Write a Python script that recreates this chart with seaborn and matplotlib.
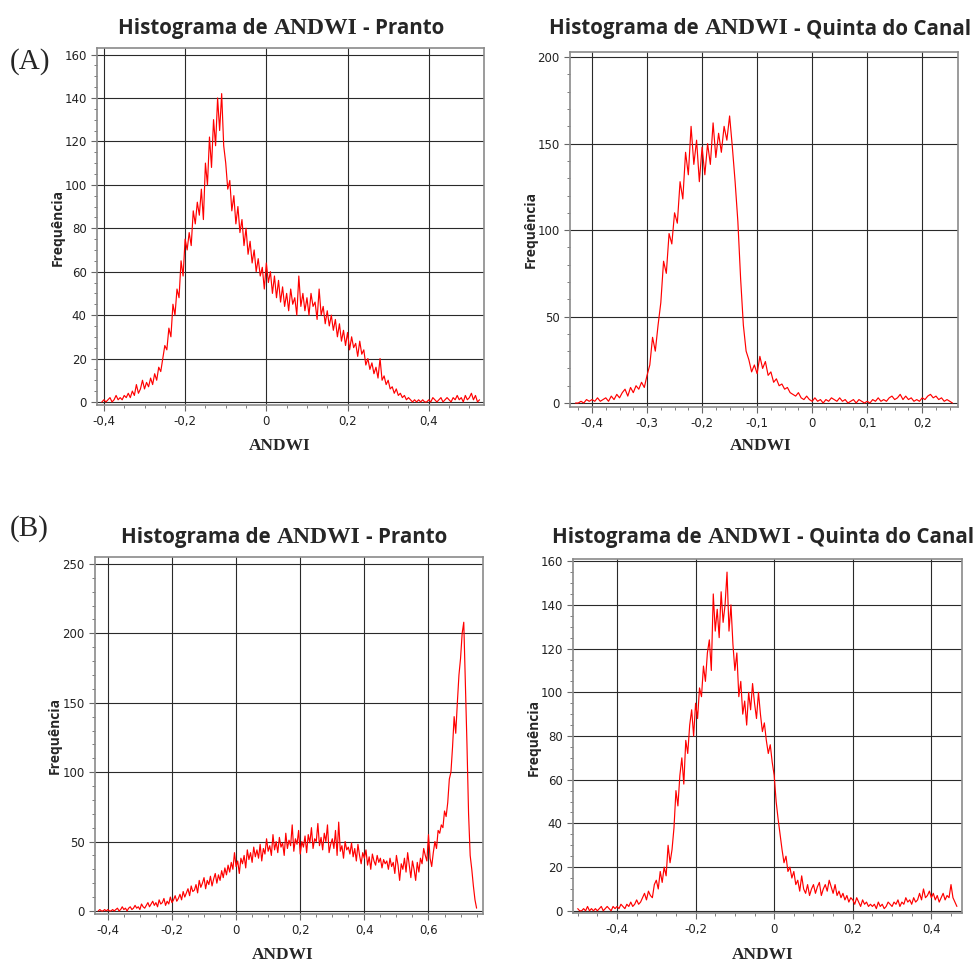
import numpy as np
import pandas as pd
import matplotlib
matplotlib.use('Agg')
import matplotlib.pyplot as plt
from matplotlib.ticker import MultipleLocator, FuncFormatter
import seaborn as sns

# histogram bins: first bin centre, bin width and counts
pranto_a_start, pranto_a_step = -0.405, 0.005
pranto_a_counts = [
    0, 1, 0, 1, 2, 0, 1, 3, 1, 2,
    1, 3, 2, 4, 2, 5, 3, 8, 4, 6,
    10, 6, 9, 7, 11, 8, 13, 10, 16, 14,
    20, 26, 24, 34, 30, 45, 40, 52, 48, 65,
    58, 75, 70, 78, 72, 88, 82, 92, 86, 98,
    84, 110, 100, 122, 108, 130, 118, 140, 125, 142,
    118, 110, 98, 102, 88, 95, 82, 90, 78, 84,
    72, 80, 68, 74, 64, 70, 60, 66, 58, 62,
    52, 64, 55, 60, 50, 58, 48, 56, 46, 53,
    44, 50, 42, 52, 45, 48, 40, 58, 44, 50,
    42, 48, 40, 50, 44, 46, 38, 52, 40, 44,
    36, 42, 35, 40, 33, 38, 30, 36, 28, 33,
    26, 32, 24, 30, 25, 27, 21, 28, 22, 24,
    17, 20, 15, 18, 13, 16, 11, 20, 10, 12,
    8, 10, 6, 7, 4, 6, 3, 4, 2, 3,
    1, 2, 1, 0, 1, 0, 1, 0, 1, 0,
    0, 1, 0, 2, 1, 0, 1, 2, 0, 1,
    2, 1, 0, 2, 1, 3, 1, 2, 0, 3,
    1, 2, 4, 1, 3, 0, 1,
]

quinta_a_start, quinta_a_step = -0.43, 0.005
quinta_a_counts = [
    0, 0, 1, 0, 2, 1, 2, 1, 3, 1,
    2, 3, 1, 4, 2, 5, 3, 6, 8, 4,
    9, 6, 10, 8, 12, 9, 16, 22, 38, 30,
    45, 58, 82, 75, 98, 92, 110, 104, 128, 118,
    145, 132, 160, 138, 152, 128, 148, 132, 150, 138,
    162, 142, 156, 145, 160, 152, 166, 148, 128, 105,
    72, 45, 30, 25, 18, 22, 17, 27, 20, 24,
    16, 18, 12, 14, 10, 11, 8, 9, 6, 5,
    4, 6, 3, 2, 4, 2, 1, 3, 1, 2,
    0, 2, 1, 3, 2, 1, 3, 1, 2, 0,
    1, 2, 0, 2, 1, 0, 1, 0, 2, 1,
    3, 1, 2, 1, 3, 4, 2, 3, 5, 2,
    4, 2, 3, 1, 2, 1, 3, 2, 4, 5,
    3, 4, 2, 3, 1, 2, 1, 0,
]

pranto_b_start, pranto_b_step = -0.43, 0.005
pranto_b_counts = [
    0, 1, 0, 0, 1, 0, 1, 0, 0, 1,
    0, 1, 2, 0, 1, 3, 1, 2, 0, 2,
    3, 1, 2, 4, 2, 3, 1, 5, 3, 2,
    4, 6, 3, 5, 7, 4, 6, 3, 8, 5,
    6, 9, 4, 7, 5, 10, 6, 8, 11, 7,
    9, 12, 8, 14, 10, 13, 16, 11, 18, 14,
    15, 19, 13, 22, 17, 20, 24, 16, 22, 19,
    25, 18, 23, 27, 20, 26, 22, 29, 24, 31,
    26, 33, 28, 35, 30, 42, 32, 36, 27, 38,
    34, 40, 31, 44, 37, 42, 35, 46, 39, 44,
    38, 48, 36, 45, 41, 52, 43, 47, 40, 55,
    44, 50, 42, 53, 46, 49, 40, 56, 45, 51,
    47, 62, 43, 52, 48, 58, 41, 50, 46, 54,
    42, 55, 49, 60, 45, 52, 50, 63, 47, 53,
    44, 56, 50, 62, 42, 48, 52, 45, 58, 40,
    64, 43, 47, 38, 50, 44, 46, 41, 49, 39,
    45, 36, 48, 40, 34, 42, 38, 44, 33, 39,
    30, 41, 36, 33, 40, 35, 38, 31, 37, 34,
    36, 30, 38, 32, 35, 27, 40, 33, 22, 34,
    30, 38, 28, 42, 33, 24, 36, 30, 22, 35,
    28, 38, 34, 45, 40, 36, 55, 38, 32, 42,
    50, 45, 58, 56, 62, 60, 72, 68, 78, 95,
    100, 118, 140, 128, 150, 170, 182, 200, 208, 165,
    120, 70, 40, 30, 18, 8, 2,
]

quinta_b_start, quinta_b_step = -0.5, 0.005
quinta_b_counts = [
    1, 0, 0, 1, 0, 2, 0, 1, 0, 1,
    0, 1, 2, 0, 1, 2, 1, 0, 2, 1,
    2, 1, 3, 2, 1, 3, 2, 4, 2, 3,
    5, 3, 4, 6, 8, 5, 9, 7, 6, 12,
    14, 10, 18, 13, 20, 16, 30, 22, 28, 38,
    55, 48, 62, 70, 58, 78, 72, 85, 92, 80,
    95, 88, 102, 98, 112, 105, 118, 124, 110, 145,
    128, 138, 125, 146, 132, 140, 155, 128, 140, 122,
    110, 118, 98, 105, 90, 96, 85, 100, 92, 104,
    95, 88, 100, 90, 82, 86, 78, 72, 76, 68,
    62, 50, 42, 35, 28, 22, 25, 18, 20, 15,
    18, 12, 14, 9, 16, 10, 8, 12, 7, 10,
    12, 8, 11, 13, 7, 10, 12, 9, 14, 11,
    8, 12, 7, 9, 6, 8, 5, 7, 4, 6,
    5, 3, 6, 4, 2, 5, 3, 4, 2, 3,
    2, 3, 1, 4, 2, 3, 1, 2, 4, 3,
    2, 4, 3, 5, 2, 4, 3, 6, 4, 5,
    3, 6, 4, 5, 8, 5, 10, 6, 7, 9,
    6, 8, 5, 7, 4, 6, 8, 5, 7, 6,
    12, 6, 4, 2,
]

sns.set_style('white')
plt.rcParams['font.family'] = ['DejaVu Sans']

W, H = 975, 965
fig = plt.figure(figsize=(W / 100, H / 100), dpi=100)


def comma_fmt(v, pos):
    s = f'{v:.2f}'.rstrip('0').rstrip('.')
    if s in ('-0', ''):
        s = '0'
    return s.replace('.', ',')


def px_rect(l, t, r, b):
    return [l / W, 1 - b / H, (r - l) / W, (b - t) / H]


def draw_panel(rect, start, step, counts, xlim, ylim, xmaj, xmin, ymaj, ymin):
    ax = fig.add_axes(px_rect(*rect))
    df = pd.DataFrame({'ANDWI': start + step * np.arange(len(counts)),
                       'Frequencia': counts})
    sns.lineplot(data=df, x='ANDWI', y='Frequencia', ax=ax, color='#ff0000', lw=0.85)
    ax.set_xlim(xlim)
    ax.set_ylim(ylim)
    ax.xaxis.set_major_locator(MultipleLocator(xmaj))
    ax.xaxis.set_minor_locator(MultipleLocator(xmin))
    ax.yaxis.set_major_locator(MultipleLocator(ymaj))
    ax.yaxis.set_minor_locator(MultipleLocator(ymin))
    ax.xaxis.set_major_formatter(FuncFormatter(comma_fmt))
    ax.yaxis.set_major_formatter(FuncFormatter(comma_fmt))
    ax.grid(True, which='major', color='#2a2a2a', lw=0.8)
    ax.tick_params(which='major', direction='out', length=4, width=0.8, color='#666',
                   labelsize=8.5, labelcolor='#222', bottom=True, left=True)
    ax.tick_params(which='minor', direction='out', length=2, width=0.6, color='#666',
                   bottom=True, left=True)
    for sp in ax.spines.values():
        sp.set_color('#8a8a8a')
        sp.set_linewidth(1.2)
    ax.set_xlabel('')
    ax.set_ylabel('')
    return ax


draw_panel((97, 48, 484, 405), pranto_a_start, pranto_a_step, pranto_a_counts,
           (-0.417, 0.536), (-1.4, 163), 0.2, 0.05, 20, 5)
draw_panel((570, 52, 958, 407), quinta_a_start, quinta_a_step, quinta_a_counts,
           (-0.44, 0.265), (-2.3, 203), 0.1, 0.025, 50, 10)
draw_panel((95, 557, 483, 914), pranto_b_start, pranto_b_step, pranto_b_counts,
           (-0.44, 0.77), (-2.2, 255), 0.2, 0.05, 50, 10)
draw_panel((573, 559, 962, 913), quinta_b_start, quinta_b_step, quinta_b_counts,
           (-0.512, 0.478), (-1, 161), 0.2, 0.05, 20, 5)

# titles mix a sans font with a serif "ANDWI"
fig.canvas.draw()
renderer = fig.canvas.get_renderer()


def title(x_px, base_px, place):
    parts = [('Histograma de', 'Open Sans', 14.8, 6),
             ('ANDWI', 'Liberation Serif', 17, 6),
             ('- ' + place, 'Open Sans', 14.8, 0)]
    x = x_px
    for txt, fam, size, gap in parts:
        t = fig.text(x / W, 1 - base_px / H, txt, family=fam, fontsize=size,
                     fontweight='bold', va='baseline', ha='left')
        x = t.get_window_extent(renderer).x1 + gap


title(118, 34, 'Pranto')
title(549, 34, 'Quinta do Canal')
title(121, 543, 'Pranto')
title(552, 543, 'Quinta do Canal')

fig.text(10 / W, 1 - 62 / H, '(A)', family='Liberation Serif', fontsize=21, va='center', ha='left')
fig.text(10 / W, 1 - 529 / H, '(B)', family='Liberation Serif', fontsize=21, va='center', ha='left')

for x, y in [(58, 228), (531, 230), (55, 735), (534, 737)]:
    fig.text(x / W, 1 - y / H, 'Frequência', family='Open Sans', fontweight='bold',
             fontsize=10, rotation=90, va='center', ha='center')

for x, y in [(280, 446), (761, 446), (283, 955), (763, 955)]:
    fig.text(x / W, 1 - y / H, 'ANDWI', family='Liberation Serif', fontweight='bold',
             fontsize=12.5, va='center', ha='center')

fig.savefig('out.png', dpi=100, facecolor='white')
